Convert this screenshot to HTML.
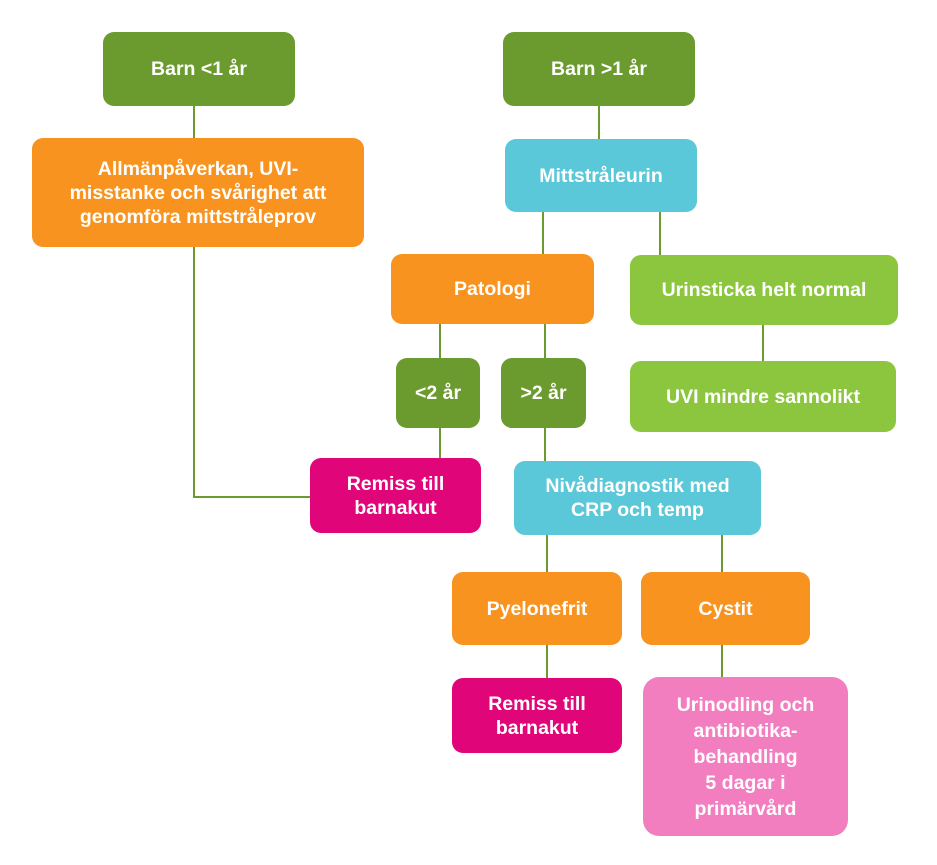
<!DOCTYPE html>
<html><head><meta charset="utf-8"><style>
body{margin:0;width:937px;height:865px;background:#fff;position:relative;font-family:"Liberation Sans",sans-serif;overflow:hidden}
.b{position:absolute;border-radius:11px;color:#fff;font-weight:bold;font-size:19.5px;line-height:24px;display:flex;align-items:center;justify-content:center;text-align:center;box-sizing:border-box}
.dg{background:#6b9a2f}.or{background:#f7931e}.cy{background:#5ac8d8}.lg{background:#8cc63f}.mg{background:#e0067a}.pk{background:#f27ec0}
.l{position:absolute;background:#6b9a2f}
.v{width:2px}.h{height:2px}
</style></head><body>
<div class="l v" style="left:193px;top:106px;height:32px"></div>
<div class="l v" style="left:193px;top:247px;height:251px"></div>
<div class="l h" style="left:193px;top:496px;width:118px"></div>
<div class="l v" style="left:598px;top:106px;height:33px"></div>
<div class="l v" style="left:542px;top:212px;height:42px"></div>
<div class="l v" style="left:659px;top:212px;height:43px"></div>
<div class="l v" style="left:762px;top:325px;height:36px"></div>
<div class="l v" style="left:439px;top:324px;height:34px"></div>
<div class="l v" style="left:544px;top:324px;height:34px"></div>
<div class="l v" style="left:439px;top:428px;height:30px"></div>
<div class="l v" style="left:544px;top:428px;height:33px"></div>
<div class="l v" style="left:546px;top:535px;height:37px"></div>
<div class="l v" style="left:721px;top:535px;height:37px"></div>
<div class="l v" style="left:546px;top:645px;height:33px"></div>
<div class="l v" style="left:721px;top:645px;height:32px"></div>

<div class="b dg" style="left:103px;top:32px;width:192px;height:74px">Barn &lt;1 år</div>
<div class="b or" style="left:32px;top:138px;width:332px;height:109px">Allmänpåverkan, UVI-<br>misstanke och svårighet att<br>genomföra mittstråleprov</div>
<div class="b dg" style="left:503px;top:32px;width:192px;height:74px">Barn &gt;1 år</div>
<div class="b cy" style="left:505px;top:139px;width:192px;height:73px">Mittstråleurin</div>
<div class="b or" style="left:391px;top:254px;width:203px;height:70px">Patologi</div>
<div class="b lg" style="left:630px;top:255px;width:268px;height:70px">Urinsticka helt normal</div>
<div class="b dg" style="left:396px;top:358px;width:84px;height:70px">&lt;2 år</div>
<div class="b dg" style="left:501px;top:358px;width:85px;height:70px">&gt;2 år</div>
<div class="b lg" style="left:630px;top:361px;width:266px;height:71px">UVI mindre sannolikt</div>
<div class="b mg" style="left:310px;top:458px;width:171px;height:75px">Remiss till<br>barnakut</div>
<div class="b cy" style="left:514px;top:461px;width:247px;height:74px">Nivådiagnostik med<br>CRP och temp</div>
<div class="b or" style="left:452px;top:572px;width:170px;height:73px">Pyelonefrit</div>
<div class="b or" style="left:641px;top:572px;width:169px;height:73px">Cystit</div>
<div class="b mg" style="left:452px;top:678px;width:170px;height:75px">Remiss till<br>barnakut</div>
<div class="b pk" style="left:643px;top:677px;width:205px;height:159px;border-radius:16px;line-height:26px">Urinodling och<br>antibiotika-<br>behandling<br>5 dagar i<br>primärvård</div>
</body></html>
